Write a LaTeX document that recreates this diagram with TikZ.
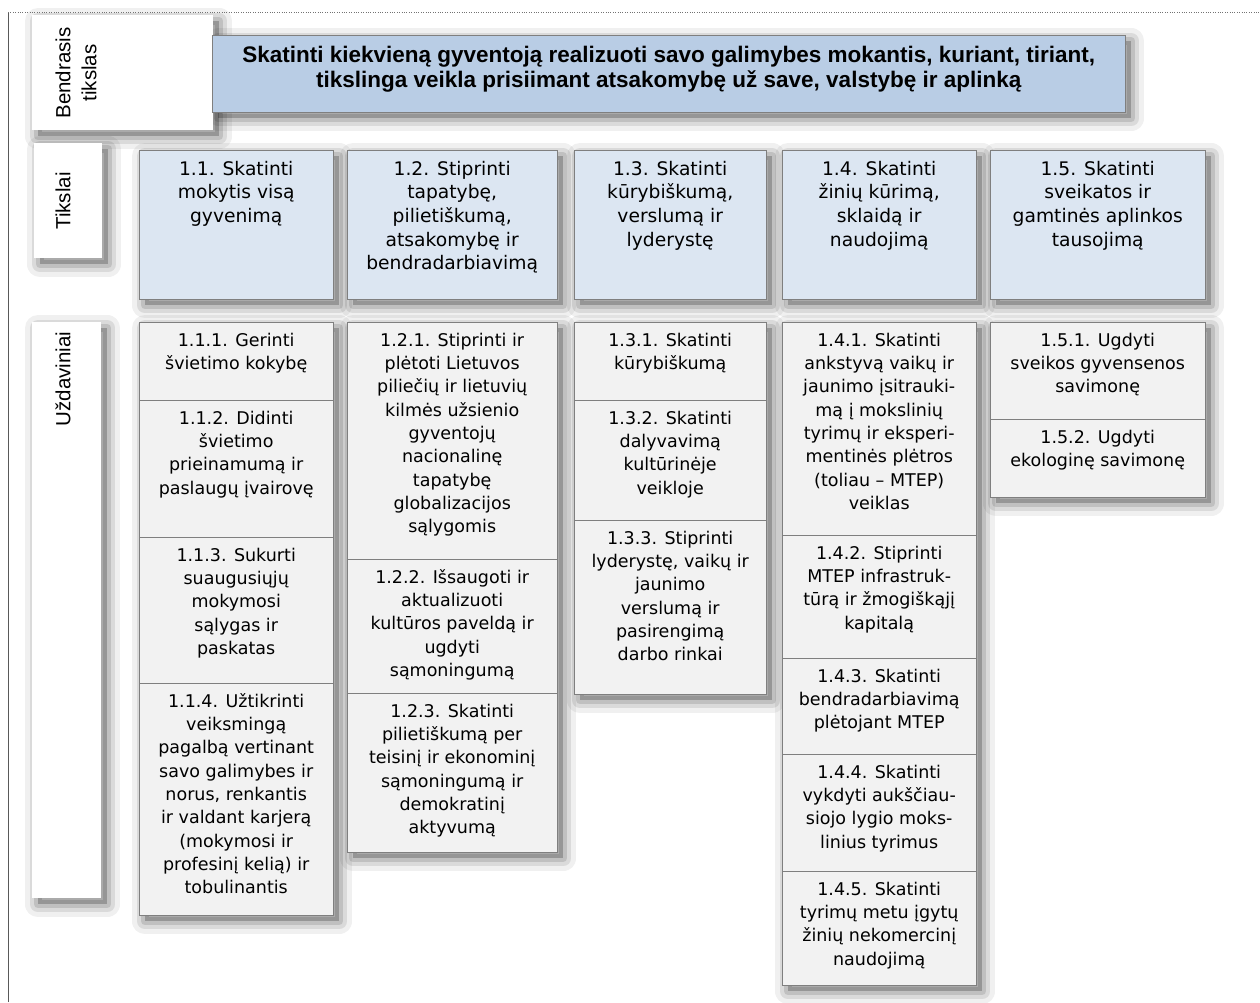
\documentclass[tikz,border=0pt]{standalone}
\usepackage{fontspec}
\setmainfont{DejaVu Sans}
\newfontfamily\arialfont{Liberation Sans}
\usetikzlibrary{shadows,backgrounds}

\begin{document}
\begin{tikzpicture}[x=1pt,y=-1pt,
  softshadow/.style={
    general shadow={fill=black,fill opacity=.22,shadow xshift=6pt,shadow yshift=-6pt},
    general shadow={draw=black,draw opacity=.12,line width=8pt,line join=round,shadow xshift=6pt,shadow yshift=-6pt},
    general shadow={draw=black,draw opacity=.09,line width=16pt,line join=round,shadow xshift=6pt,shadow yshift=-6pt},
    general shadow={draw=black,draw opacity=.06,line width=26pt,line join=round,shadow xshift=6pt,shadow yshift=-6pt}},
  sidebox/.style={fill=white,anchor=north west,inner sep=0pt},
  sidetext/.style={rotate=90,align=center,font=\arialfont\fontsize{20.5}{26}\selectfont},
  topbox/.style={draw=boxline,fill=topblue,anchor=north west,inner sep=0pt,
    font=\arialfont\bfseries\fontsize{22.5}{25.5}\selectfont},
  goalbox/.style={draw=boxline,fill=goalblue,anchor=north west,inner sep=0pt,
    font=\fontsize{18.7}{23.6}\selectfont},
  taskbox/.style={draw=boxline,fill=taskgray,anchor=north west,inner sep=0pt,
    font=\fontsize{17.5}{23.3}\selectfont}]
\definecolor{boxline}{HTML}{7F7F7F}
\definecolor{topblue}{HTML}{B9CDE5}
\definecolor{goalblue}{HTML}{DCE6F2}
\definecolor{taskgray}{HTML}{F2F2F2}
\useasboundingbox (0,0) rectangle (1260,1002);

\draw[black!65] (8,1002) -- (8,12);
\draw[black!55,dotted] (8,12) -- (1260,12);

\node[sidebox,minimum width=181,minimum height=115] (bendbox) at (32,15) {};
\node[sidebox,minimum width=68,minimum height=115] (tiksbox) at (34,143) {};
\node[sidebox,minimum width=69,minimum height=576] (uzdbox) at (32,322) {};
\node[sidetext] (bendtext) at (76,73) {Bendrasis\\tikslas};
\node[sidetext] (tikstext) at (63,201) {Tikslai};
\node[sidetext] (uzdtext) at (63,379) {Uždaviniai};

\node[topbox] (goal) at (212,35) {\parbox[t][77pt][t]{913pt}{\centering\rule{0pt}{27pt}Skatinti kiekvieną gyventoją realizuoti savo galimybes mokantis, kuriant, tiriant,\\tikslinga veikla prisiimant atsakomybę už save, valstybę ir aplinką}};

\foreach \nm/\xl/\ww/\txt in {
  11/139/194/{1.1. Skatinti\\mokytis visą\\gyvenimą},
  12/347/210/{1.2. Stiprinti\\tapatybę,\\pilietiškumą,\\atsakomybę ir\\bendradarbiavimą},
  13/574/192/{1.3. Skatinti\\kūrybiškumą,\\verslumą ir\\lyderystę},
  14/782/194/{1.4. Skatinti\\žinių kūrimą,\\sklaidą ir\\naudojimą},
  15/990/215/{1.5. Skatinti\\sveikatos ir\\gamtinės aplinkos\\tausojimą}}
  \node[goalbox] (g\nm) at (\xl,150) {\parbox[t][149pt][t]{\ww pt}{\centering\rule{0pt}{25pt}\txt}};

\foreach \nm/\xl/\ww/\yt/\hh/\txt in {
  111/139/194/322/78/{1.1.1. Gerinti\\švietimo kokybę},
  112/139/194/400/137/{1.1.2. Didinti\\švietimo\\prieinamumą ir\\paslaugų įvairovę},
  113/139/194/537/146/{1.1.3. Sukurti\\suaugusiųjų\\mokymosi\\sąlygas ir\\paskatas},
  114/139/194/683/232/{1.1.4. Užtikrinti\\veiksmingą\\pagalbą vertinant\\savo galimybes ir\\norus, renkantis\\ir valdant karjerą\\(mokymosi ir\\profesinį kelią) ir\\tobulinantis},
  121/347/210/322/237/{1.2.1. Stiprinti ir\\plėtoti Lietuvos\\piliečių ir lietuvių\\kilmės užsienio\\gyventojų\\nacionalinę\\tapatybę\\globalizacijos\\sąlygomis},
  122/347/210/559/134/{1.2.2. Išsaugoti ir\\aktualizuoti\\kultūros paveldą ir\\ugdyti\\sąmoningumą},
  123/347/210/693/159/{1.2.3. Skatinti\\pilietiškumą per\\teisinį ir ekonominį\\sąmoningumą ir\\demokratinį\\aktyvumą},
  131/574/192/322/78/{1.3.1. Skatinti\\kūrybiškumą},
  132/574/192/400/120/{1.3.2. Skatinti\\dalyvavimą\\kultūrinėje\\veikloje},
  133/574/192/520/174/{1.3.3. Stiprinti\\lyderystę, vaikų ir\\jaunimo\\verslumą ir\\pasirengimą\\darbo rinkai},
  141/782/194/322/213/{1.4.1. Skatinti\\ankstyvą vaikų ir\\jaunimo įsitrauki-\\mą į mokslinių\\tyrimų ir eksperi-\\mentinės plėtros\\(toliau – MTEP)\\veiklas},
  142/782/194/535/123/{1.4.2. Stiprinti\\MTEP infrastruk-\\tūrą ir žmogiškąjį\\kapitalą},
  143/782/194/658/96/{1.4.3. Skatinti\\bendradarbiavimą\\plėtojant MTEP},
  144/782/194/754/117/{1.4.4. Skatinti\\vykdyti aukščiau-\\siojo lygio moks-\\linius tyrimus},
  145/782/194/871/114/{1.4.5. Skatinti\\tyrimų metu įgytų\\žinių nekomercinį\\naudojimą},
  151/990/215/322/97/{1.5.1. Ugdyti\\sveikos gyvensenos\\savimonę},
  152/990/215/419/78/{1.5.2. Ugdyti\\ekologinę savimonę}}
  \node[taskbox] (t\nm) at (\xl,\yt) {\parbox[t][\hh pt][t]{\ww pt}{\centering\rule{0pt}{24pt}\txt}};

\begin{scope}[on background layer]
\foreach \a/\b in {bendbox/bendbox,tiksbox/tiksbox,uzdbox/uzdbox,goal/goal,
  g11/g11,g12/g12,g13/g13,g14/g14,g15/g15,
  t111/t114,t121/t123,t131/t133,t141/t145,t151/t152}
  \path[softshadow] (\a.north west) rectangle (\b.south east);
\end{scope}
\end{tikzpicture}
\end{document}
